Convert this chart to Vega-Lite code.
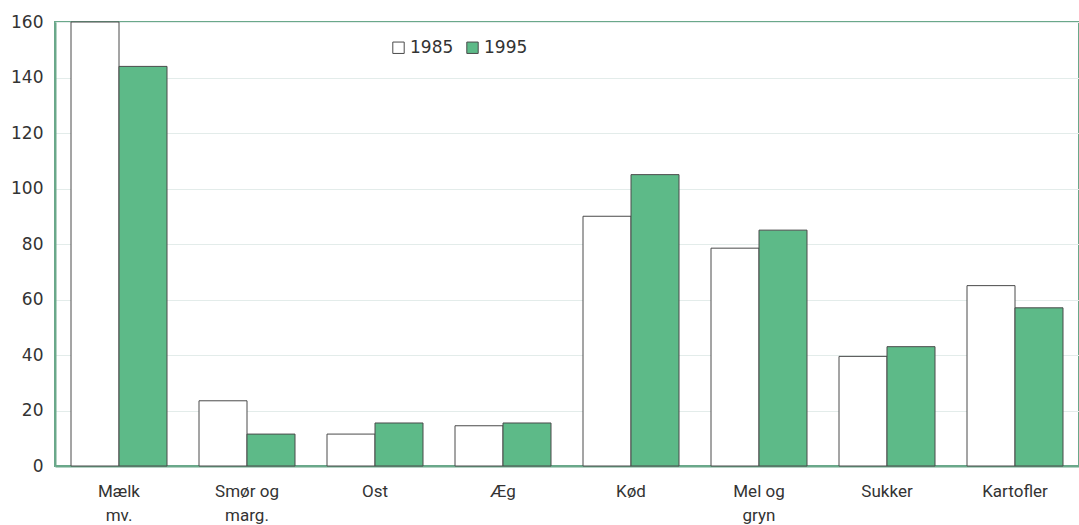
{
  "$schema": "https://vega.github.io/schema/vega-lite/v6.json",
  "width": 1024,
  "height": 444,
  "autosize": {"type": "none"},
  "padding": {"left": 55, "top": 22, "right": 0, "bottom": 59},
  "background": "white",
  "config": {
    "font": "Roboto, Liberation Sans, sans-serif",
    "view": {"stroke": "#6aa88a", "strokeWidth": 2}
  },
  "data": {
    "values": [
      {"kategori": "Mælk|mv.", "år": "1985", "værdi": 160},
      {"kategori": "Mælk|mv.", "år": "1995", "værdi": 144},
      {"kategori": "Smør og|marg.", "år": "1985", "værdi": 23.5},
      {"kategori": "Smør og|marg.", "år": "1995", "værdi": 11.5},
      {"kategori": "Ost", "år": "1985", "værdi": 11.5},
      {"kategori": "Ost", "år": "1995", "værdi": 15.5},
      {"kategori": "Æg", "år": "1985", "værdi": 14.5},
      {"kategori": "Æg", "år": "1995", "værdi": 15.5},
      {"kategori": "Kød", "år": "1985", "værdi": 90},
      {"kategori": "Kød", "år": "1995", "værdi": 105},
      {"kategori": "Mel og|gryn", "år": "1985", "værdi": 78.5},
      {"kategori": "Mel og|gryn", "år": "1995", "værdi": 85},
      {"kategori": "Sukker", "år": "1985", "værdi": 39.5},
      {"kategori": "Sukker", "år": "1995", "værdi": 43},
      {"kategori": "Kartofler", "år": "1985", "værdi": 65},
      {"kategori": "Kartofler", "år": "1995", "værdi": 57}
    ]
  },
  "mark": {"type": "bar", "stroke": "#4a4a4a", "strokeWidth": 1},
  "encoding": {
    "x": {
      "field": "kategori",
      "type": "nominal",
      "sort": null,
      "scale": {"paddingInner": 0.25, "paddingOuter": 0.125},
      "axis": {
        "title": null,
        "labelAngle": 0,
        "labelExpr": "split(datum.label, '|')",
        "labelFont": "Roboto",
        "labelFontSize": 17,
        "labelColor": "#333333",
        "labelPadding": 17,
        "labelLineHeight": 24,
        "ticks": false,
        "domainColor": "#6aa88a",
        "domainWidth": 2
      }
    },
    "xOffset": {"field": "år", "type": "nominal", "scale": {"paddingInner": 0, "paddingOuter": 0}},
    "y": {
      "field": "værdi",
      "type": "quantitative",
      "scale": {"domain": [0, 160], "nice": false},
      "axis": {
        "title": null,
        "values": [0, 20, 40, 60, 80, 100, 120, 140, 160],
        "labelFont": "DejaVu Sans",
        "labelFontSize": 17,
        "labelColor": "#333333",
        "labelPadding": 12,
        "ticks": false,
        "domainColor": "#6aa88a",
        "domainWidth": 2,
        "gridColor": "#e3ecea",
        "gridWidth": 1
      }
    },
    "fill": {
      "field": "år",
      "type": "nominal",
      "scale": {"domain": ["1985", "1995"], "range": ["#ffffff", "#5dba88"]},
      "legend": {
        "title": null,
        "orient": "none",
        "legendX": 335,
        "legendY": 17,
        "direction": "horizontal",
        "symbolType": "square",
        "symbolSize": 130,
        "symbolStrokeColor": "#4a4a4a",
        "symbolStrokeWidth": 1,
        "labelFont": "DejaVu Sans",
        "labelFontSize": 17,
        "labelColor": "#333333",
        "labelOffset": 3,
        "columnPadding": 10
      }
    }
  }
}
